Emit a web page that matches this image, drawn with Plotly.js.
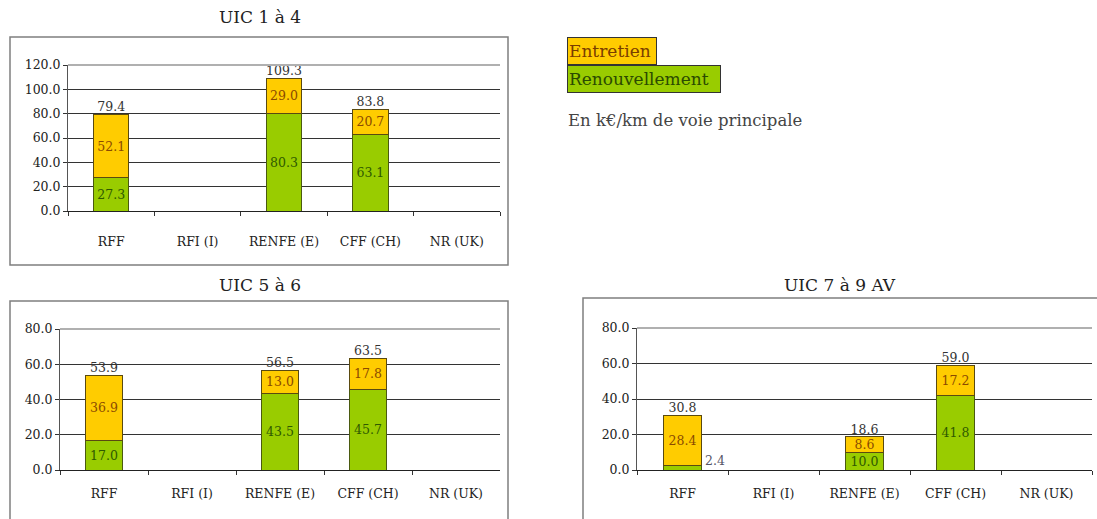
<!DOCTYPE html>
<html><head><meta charset="utf-8">
<script src="https://cdn.plot.ly/plotly-3.0.1.min.js"></script>
<style>html,body{margin:0;padding:0;background:#fff}#chart{width:1097px;height:519px}</style>
</head><body><div id="chart"></div>
<script>
const categories = ['RFF', 'RFI (I)', 'RENFE (E)', 'CFF (CH)', 'NR (UK)'];
const renouv_1_4 = [27.3, null, 80.3, 63.1, null];
const entretien_1_4 = [52.1, null, 29.0, 20.7, null];
const renouv_5_6 = [17.0, null, 43.5, 45.7, null];
const entretien_5_6 = [36.9, null, 13.0, 17.8, null];
const renouv_7_9 = [2.4, null, 10.0, 41.8, null];
const entretien_7_9 = [28.4, null, 8.6, 17.2, null];
const panelTitles = ['UIC 1 à 4', 'UIC 5 à 6', 'UIC 7 à 9 AV'];
const yMax = [120, 80, 80];
const legendNames = ['Entretien', 'Renouvellement'];
const unitNote = 'En k€/km de voie principale';

const W = 1097, H = 519;
const px = x => x / W, py = y => 1 - y / H;
const FONT = '"DejaVu Serif", "Liberation Serif", serif';
const YEL = '#FFCC00', GRN = '#99CC00';

const panels = [
  {r: renouv_1_4, e: entretien_1_4, xd: [68, 500], yd: [211, 65], frame: [10, 37, 508, 265], title: [260, 17], standoff: 19},
  {r: renouv_5_6, e: entretien_5_6, xd: [60, 500], yd: [470, 329], frame: [10, 301, 508, 530], title: [260, 285], standoff: 12},
  {r: renouv_7_9, e: entretien_7_9, xd: [637, 1092], yd: [470, 328], frame: [583, 298, 1110, 530], title: [840, 285], standoff: 12}
];

const fmt = v => (v == null ? '' : v.toFixed(1));
const traces = [], shapes = [], annotations = [];
const layout = {
  width: W, height: H, margin: {l: 0, r: 0, t: 0, b: 0},
  paper_bgcolor: '#fff', plot_bgcolor: '#fff',
  barmode: 'stack', bargap: 0.59, showlegend: false,
  font: {family: FONT, size: 12, color: '#222'}
};

panels.forEach((p, i) => {
  const n = i + 1, xa = 'x' + (n === 1 ? '' : n), ya = 'y' + (n === 1 ? '' : n);
  const small = p.r.map(v => v != null && v < 4);
  traces.push({
    type: 'bar', x: categories, y: p.r, xaxis: xa, yaxis: ya, name: legendNames[1],
    marker: {color: GRN, line: {color: '#4a5a10', width: 1}},
    text: p.r.map((v, k) => small[k] ? '' : fmt(v)), textposition: 'inside',
    insidetextanchor: 'middle', constraintext: 'none',
    textfont: {family: FONT, size: 12.5, color: '#2f5a00'}, hoverinfo: 'skip'
  });
  traces.push({
    type: 'bar', x: categories, y: p.e, xaxis: xa, yaxis: ya, name: legendNames[0],
    marker: {color: YEL, line: {color: '#5a4a10', width: 1}},
    text: p.e.map(fmt), textposition: 'inside',
    insidetextanchor: 'middle', constraintext: 'none',
    textfont: {family: FONT, size: 12.5, color: '#8a4a00'}, hoverinfo: 'skip'
  });
  const totals = p.r.map((v, k) => (v == null ? null : v + p.e[k]));
  traces.push({
    type: 'scatter', mode: 'text', x: categories, y: totals, xaxis: xa, yaxis: ya,
    text: totals.map(fmt), textposition: 'top center', cliponaxis: false,
    textfont: {family: FONT, size: 12.5, color: '#333'}, hoverinfo: 'skip'
  });
  p.r.forEach((v, k) => {
    if (small[k]) annotations.push({
      xref: xa, yref: ya, x: categories[k], y: v, text: fmt(v), showarrow: false,
      xanchor: 'left', yanchor: 'bottom', xshift: 20, yshift: -4,
      font: {family: FONT, size: 12.5, color: '#556'}
    });
  });
  layout['xaxis' + (n === 1 ? '' : n)] = {
    domain: [px(p.xd[0]), px(p.xd[1])], anchor: ya, type: 'category',
    showline: true, linecolor: '#222', linewidth: 1, ticks: 'outside', tickson: 'boundaries',
    ticklen: 4, tickcolor: '#333', ticklabelstandoff: p.standoff, showgrid: false, fixedrange: true,
    tickfont: {family: FONT, size: 12.5, color: '#222'}
  };
  layout['yaxis' + (n === 1 ? '' : n)] = {
    domain: [py(p.yd[0]), py(p.yd[1])], anchor: xa, range: [0, yMax[i]], dtick: 20,
    tickformat: '.1f', showline: true, linecolor: '#555', linewidth: 1, ticks: 'outside',
    ticklen: 4, tickcolor: '#333', showgrid: true, gridcolor: '#333', gridwidth: 1,
    zeroline: false, fixedrange: true, tickfont: {family: FONT, size: 12.5, color: '#222'}
  };
  shapes.push({type: 'rect', xref: 'paper', yref: 'paper', x0: px(p.frame[0]), x1: px(p.frame[2]),
    y0: py(p.frame[3]), y1: py(p.frame[1]), line: {color: '#7f7f7f', width: 1.5}, layer: 'below'});
  shapes.push({type: 'line', xref: 'paper', yref: 'paper', x0: px(p.xd[0]), x1: px(p.xd[1]),
    y0: py(p.yd[1]), y1: py(p.yd[1]), line: {color: '#b0b0b0', width: 2}, layer: 'above'});
  annotations.push({xref: 'paper', yref: 'paper', x: px(p.title[0]), y: py(p.title[1]),
    xanchor: 'center', yanchor: 'middle', showarrow: false, text: panelTitles[i],
    font: {family: FONT, size: 17, color: '#222'}});
});

annotations.push({xref: 'paper', yref: 'paper', x: px(567), y: py(37), xanchor: 'left', yanchor: 'top',
  showarrow: false, text: legendNames[0], bgcolor: YEL, bordercolor: '#333', borderwidth: 1, borderpad: 1,
  width: 86, height: 24, align: 'left', font: {family: FONT, size: 17, color: '#7a3d00'}});
annotations.push({xref: 'paper', yref: 'paper', x: px(567), y: py(65), xanchor: 'left', yanchor: 'top',
  showarrow: false, text: legendNames[1], bgcolor: GRN, bordercolor: '#333', borderwidth: 1, borderpad: 1,
  width: 150, height: 24, align: 'left', font: {family: FONT, size: 17, color: '#2b4a00'}});
annotations.push({xref: 'paper', yref: 'paper', x: px(566), y: py(120), xanchor: 'left', yanchor: 'middle',
  showarrow: false, text: unitNote, font: {family: FONT, size: 16.5, color: '#444'}});

layout.shapes = shapes;
layout.annotations = annotations;
Plotly.newPlot('chart', traces, layout, {displayModeBar: false, staticPlot: true});
</script></body></html>
